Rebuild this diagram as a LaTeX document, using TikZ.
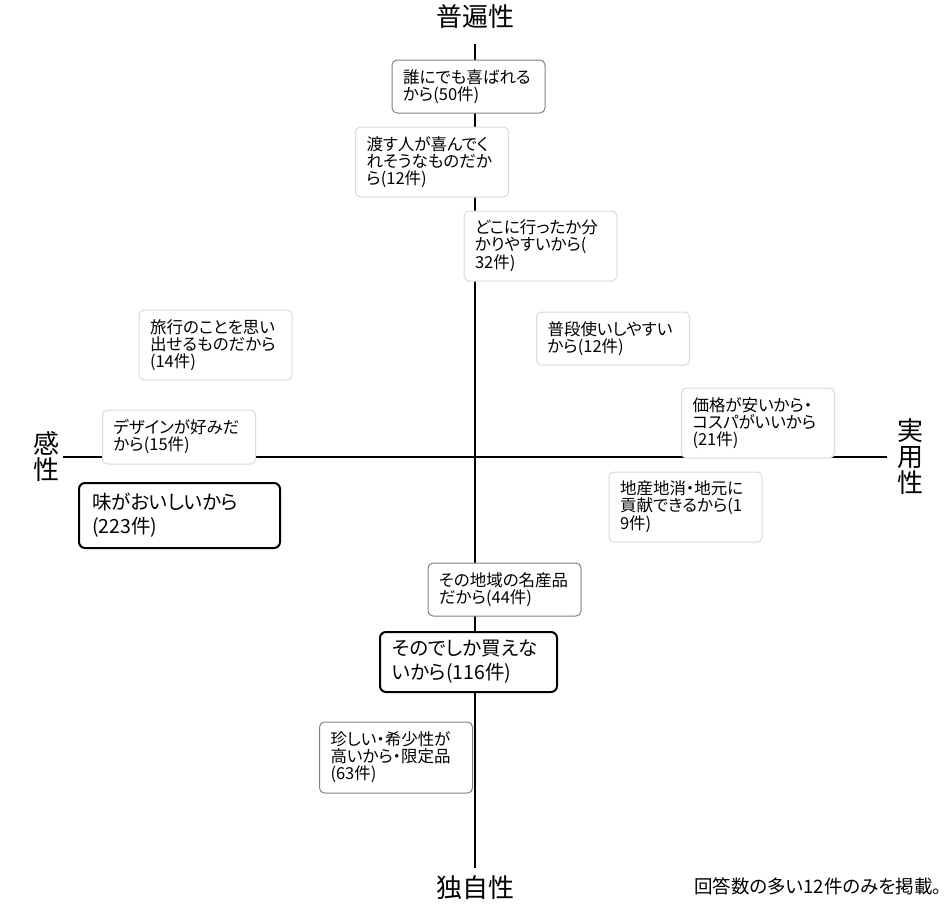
\documentclass[tikz,border=0pt]{standalone}
\usepackage{fontspec}
\setmainfont{Noto Sans CJK JP}[RawFeature=+palt]
\definecolor{lightedge}{HTML}{DADADA}
\definecolor{midedge}{HTML}{808080}

\begin{document}
\begin{tikzpicture}[x=1pt,y=-1pt,
  reason/.style={draw=lightedge,fill=white,rounded corners=5pt,line width=1pt,
    inner xsep=11pt,inner ysep=0pt,text width=131pt,align=left,
    font=\fontsize{16.5}{17}\selectfont},
  tworow/.style={minimum height=53pt},
  threerow/.style={minimum height=70pt},
  mid/.style={draw=midedge},
  top3/.style={draw=black,line width=2pt,rounded corners=6pt,inner xsep=12pt,
    font=\fontsize{19.5}{24}\selectfont},
  axislabel/.style={align=center,inner sep=0pt,font=\fontsize{26}{26}\selectfont}]
\useasboundingbox (0,0) rectangle (949,905);

\coordinate (ytop) at (475,44);
\coordinate (ybot) at (475,868);
\coordinate (xleft) at (63,457);
\coordinate (xright) at (887,457);
\draw[line width=1.2pt] (ytop) -- (ybot);
\draw[line width=1.2pt] (xleft) -- (xright);

\node[axislabel] (universal) at (475,17) {普遍性};
\node[axislabel] (unique) at (475,888) {独自性};
\node[axislabel] (emotion) at (46,457) {感\\性};
\node[axislabel] (practical) at (910,457) {実\\用\\性};

\node[reason,tworow,mid] (pleased) at (468.5,86.5) {誰にでも喜ばれる\\から(50件)};
\node[reason,threerow] (receiver) at (432,162) {渡す人が喜んでく\\れそうなものだか\\ら(12件)};
\node[reason,threerow] (where) at (540.5,246) {どこに行ったか分\\かりやすいから(\\32件)};
\node[reason,threerow] (memory) at (215.5,345) {旅行のことを思い\\出せるものだから\\(14件)};
\node[reason,tworow] (daily) at (613,338.5) {普段使いしやすい\\から(12件)};
\node[reason,tworow,minimum height=54pt] (design) at (179,437) {デザインが好みだ\\から(15件)};
\node[reason,threerow] (price) at (758,423) {価格が安いから・\\コスパがいいから\\(21件)};
\node[reason,top3,text width=175pt,inner xsep=13pt,minimum height=65pt] (taste) at (179.5,515.5) {味がおいしいから\\(223件)};
\node[reason,threerow] (local) at (685.5,507) {地産地消・地元に\\貢献できるから(1\\9件)};
\node[reason,tworow,mid] (famous) at (504.5,589.5) {その地域の名産品\\だから(44件)};
\node[reason,top3,text width=153pt,minimum height=60pt] (onlyhere) at (468.5,662) {そのでしか買えな\\いから(116件)};
\node[reason,threerow,mid,minimum height=71pt] (rare) at (396,757.5) {珍しい・希少性が\\高いから・限定品\\(63件)};

\node[anchor=base east,inner sep=0pt,font=\fontsize{18.5}{20}\selectfont] (note) at (942,893) {回答数の多い12件のみを掲載。};
\end{tikzpicture}
\end{document}
